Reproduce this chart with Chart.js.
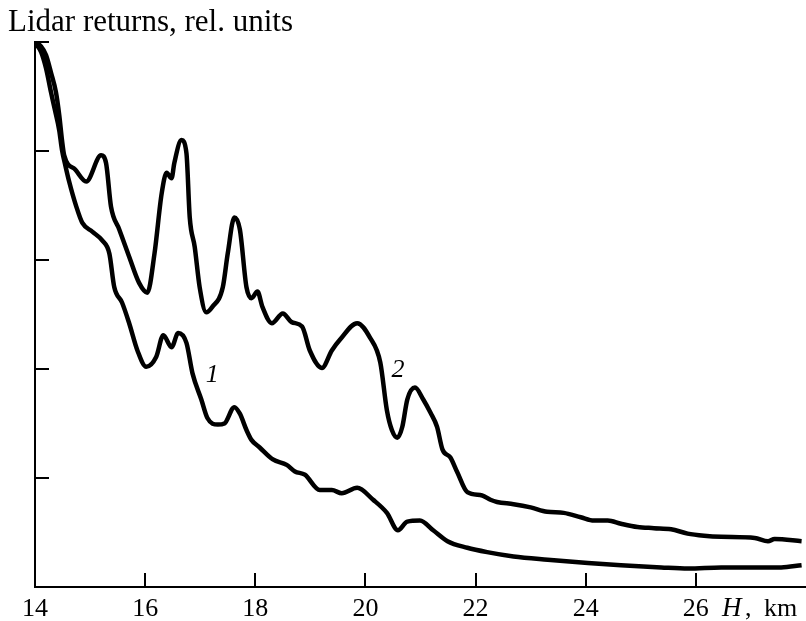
<!DOCTYPE html>
<html>
<head>
<meta charset="utf-8">
<script src="https://cdn.jsdelivr.net/npm/chart.js@4.4.1/dist/chart.umd.min.js"></script>
<style>
  html, body { margin: 0; padding: 0; background: #fff; }
  #wrap { width: 806px; height: 621px; }
</style>
</head>
<body>
<div id="wrap"><canvas id="lidar"></canvas></div>
<script>
// heights (km) and lidar returns (rel. units) for both profiles
const h1 = [14.02,14.11,14.20,14.29,14.36,14.44,14.49,14.55,14.62,14.75,14.86,15.04,15.22,15.35,15.44,15.58,15.71,15.86,16.02,16.20,16.33,16.48,16.60,16.75,16.86,17.02,17.13,17.32,17.44,17.62,17.72,17.84,17.93,18.08,18.32,18.57,18.72,18.90,19.17,19.39,19.57,19.85,20.14,20.39,20.59,20.76,20.99,21.23,21.49,21.85,22.21,22.69,23.31,24.04,24.64,25.37,25.86,26.46,27.06,27.55,27.92];
const lidar1 = [4.98,4.91,4.76,4.54,4.38,4.19,4.01,3.87,3.72,3.49,3.34,3.26,3.18,3.06,2.75,2.61,2.42,2.17,2.02,2.11,2.31,2.20,2.33,2.24,1.96,1.72,1.55,1.49,1.50,1.65,1.59,1.44,1.35,1.28,1.17,1.12,1.06,1.03,0.89,0.89,0.86,0.91,0.80,0.68,0.52,0.60,0.61,0.52,0.42,0.36,0.32,0.28,0.25,0.22,0.20,0.18,0.17,0.18,0.18,0.18,0.20];

const h2 = [14.02,14.11,14.20,14.29,14.38,14.44,14.49,14.53,14.73,14.93,15.20,15.29,15.38,15.53,15.71,15.89,16.04,16.17,16.30,16.39,16.48,16.53,16.66,16.75,16.81,16.90,16.99,17.11,17.22,17.41,17.50,17.62,17.72,17.84,17.93,18.04,18.13,18.30,18.50,18.66,18.85,18.99,19.21,19.39,19.54,19.85,20.08,20.27,20.39,20.48,20.58,20.67,20.76,20.90,21.05,21.18,21.30,21.40,21.54,21.67,21.85,22.12,22.27,22.39,22.69,23.00,23.30,23.60,23.91,24.15,24.40,24.64,24.94,25.24,25.55,25.85,26.15,26.46,27.07,27.31,27.43,27.92];
const lidar2 = [4.99,4.96,4.88,4.72,4.54,4.33,4.10,3.96,3.83,3.72,3.96,3.89,3.49,3.28,3.03,2.79,2.70,3.06,3.61,3.80,3.75,3.89,4.10,3.98,3.39,3.12,2.75,2.52,2.57,2.75,3.06,3.39,3.28,2.75,2.65,2.71,2.57,2.42,2.51,2.43,2.39,2.17,2.01,2.17,2.27,2.42,2.29,2.06,1.62,1.44,1.37,1.47,1.72,1.83,1.72,1.60,1.47,1.26,1.19,1.05,0.87,0.84,0.80,0.78,0.76,0.73,0.69,0.68,0.64,0.61,0.61,0.58,0.55,0.54,0.53,0.49,0.47,0.46,0.45,0.42,0.44,0.42];

const xTicks = [14, 16, 18, 20, 22, 24, 26];
const yTicks = [1, 2, 3, 4, 5];

// curve numbers placed next to each profile
const curveLabels = ['1', '2'];
const curveLabelPos = [[17.22, 1.96], [20.59, 2.01]];

const SERIF = '"Liberation Serif", "Times New Roman", serif';

function pairs(xs, ys) {
  return xs.map((x, i) => ({x: x, y: ys[i]}));
}

function text(ctx, str, x, y, font, align) {
  ctx.font = font;
  ctx.textAlign = align || 'left';
  ctx.textBaseline = 'alphabetic';
  ctx.fillText(str, x, y);
}

const axisDecor = {
  id: 'axisDecor',
  afterDraw(chart) {
    const ctx = chart.ctx;
    const xs = chart.scales.x, ys = chart.scales.y;
    const area = chart.chartArea;
    ctx.save();
    ctx.strokeStyle = '#000';
    ctx.fillStyle = '#000';
    ctx.lineWidth = 2;
    ctx.beginPath();
    // inward ticks on the left axis
    for (const v of yTicks) {
      const py = Math.round(ys.getPixelForValue(v));
      ctx.moveTo(area.left, py);
      ctx.lineTo(area.left + 14, py);
    }
    // upward ticks on the bottom axis
    for (const v of xTicks) {
      if (v === xs.min) continue;
      const px = Math.round(xs.getPixelForValue(v));
      ctx.moveTo(px, area.bottom);
      ctx.lineTo(px, area.bottom - 14);
    }
    ctx.stroke();

    // tick labels
    const base = area.bottom + 29;
    for (const v of xTicks) {
      text(ctx, String(v), xs.getPixelForValue(v), base, '26px ' + SERIF, 'center');
    }

    // axis titles
    text(ctx, 'Lidar returns, rel. units', 8, 31, '31px ' + SERIF);
    text(ctx, 'H', 722, base, 'italic 27px ' + SERIF);
    text(ctx, ',', 745, base, '26px ' + SERIF);
    text(ctx, 'km', 764, base, '26px ' + SERIF);

    // curve numbers
    curveLabels.forEach((t, i) => {
      const p = curveLabelPos[i];
      text(ctx, t, xs.getPixelForValue(p[0]), ys.getPixelForValue(p[1]) + 9, 'italic 26px ' + SERIF, 'center');
    });
    ctx.restore();
  }
};

const line = {
  borderColor: '#000',
  borderWidth: 4.5,
  pointRadius: 0,
  fill: false,
  cubicInterpolationMode: 'monotone'
};

new Chart(document.getElementById('lidar'), {
  type: 'line',
  data: {
    datasets: [
      Object.assign({label: '1', data: pairs(h1, lidar1)}, line),
      Object.assign({label: '2', data: pairs(h2, lidar2)}, line)
    ]
  },
  options: {
    responsive: true,
    maintainAspectRatio: false,
    animation: false,
    layout: { padding: { left: 35, top: 42, right: 0, bottom: 34 } },
    plugins: { legend: { display: false }, tooltip: { enabled: false } },
    scales: {
      x: {
        type: 'linear',
        min: 14,
        max: 28,
        grid: { display: false, drawTicks: false },
        border: { display: true, color: '#000', width: 2 },
        ticks: { display: false }
      },
      y: {
        min: 0,
        max: 5,
        grid: { display: false, drawTicks: false },
        border: { display: true, color: '#000', width: 2 },
        ticks: { display: false }
      }
    }
  },
  plugins: [axisDecor]
});
</script>
</body>
</html>
